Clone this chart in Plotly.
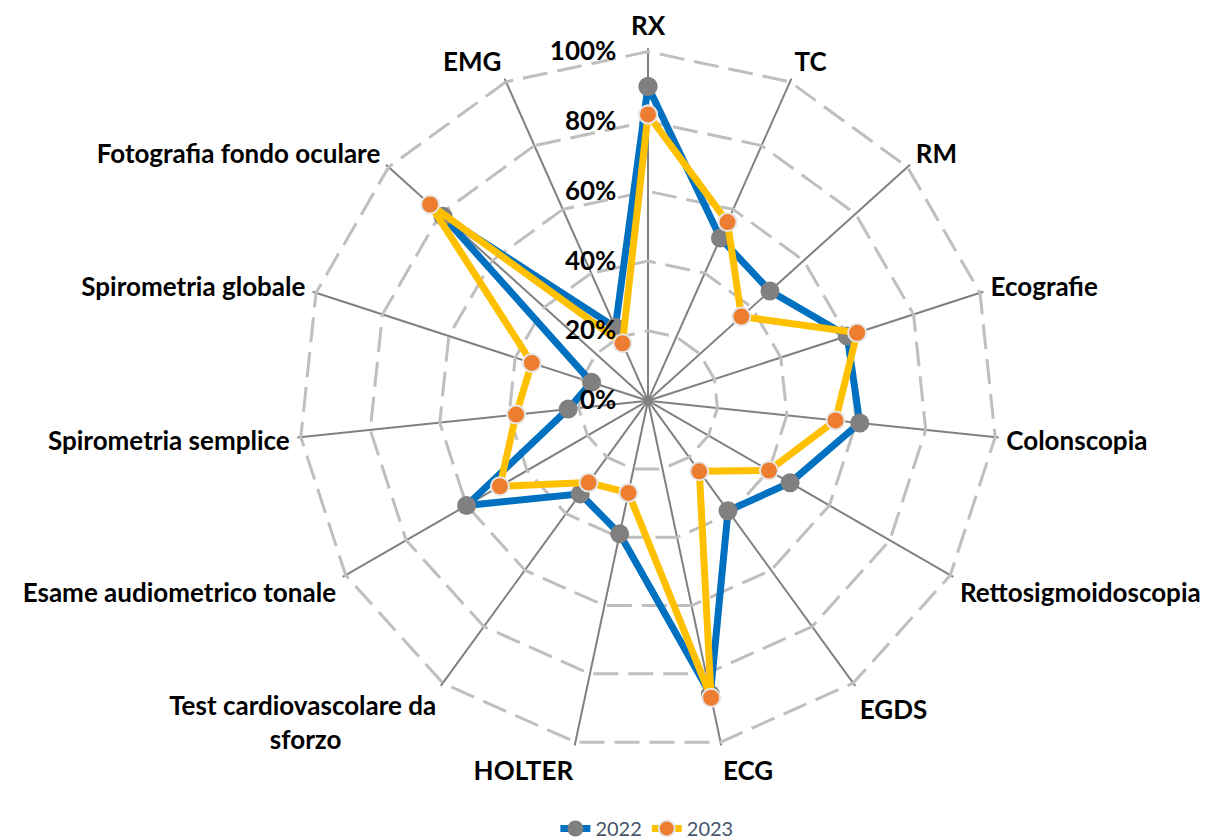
import plotly.graph_objects as go

NB = "\u00a0"
categories = ["RX", "TC", "RM", "Ecografie", "Colonscopia", "Rettosigmoidoscopia",
              "EGDS", "ECG", "HOLTER", "Test cardiovascolare da<br>sforzo" + NB * 15,
              "Esame audiometrico tonale", "Spirometria semplice",
              "Spirometria globale", "Fotografia fondo oculare", "EMG"]
values_2022 = [0.90, 0.51, 0.47, 0.60, 0.61, 0.47, 0.39, 0.86, 0.39, 0.33, 0.60, 0.23, 0.17, 0.79, 0.23]
values_2023 = [0.82, 0.56, 0.36, 0.63, 0.54, 0.40, 0.25, 0.87, 0.27, 0.29, 0.49, 0.38, 0.35, 0.84, 0.18]
tick_vals = [0, 0.2, 0.4, 0.6, 0.8, 1.0]
tick_text = ["0%", "20%", "40%", "60%", "80%", "100%"]

FONT = "Lato, 'Open Sans', sans-serif"

def closed(seq):
    return list(seq) + [seq[0]]

fig = go.Figure()
fig.add_trace(go.Scatterpolar(
    r=closed(values_2022), theta=closed(categories), name="2022",
    mode="lines+markers",
    line=dict(color="#0070C0", width=7),
    marker=dict(color="#808080", size=19, line=dict(color="#808080", width=0)),
))
fig.add_trace(go.Scatterpolar(
    r=closed(values_2023), theta=closed(categories), name="2023",
    mode="lines+markers",
    line=dict(color="#FFC000", width=7),
    marker=dict(color="#ED7D31", size=18, line=dict(color="#E6E6E6", width=2)),
))

rmax = 1.01
cx, cy, half = 640, 396, 352 * rmax
fig.update_layout(
    width=1210, height=840,
    margin=dict(l=0, r=0, t=0, b=0),
    paper_bgcolor="white",
    font=dict(family=FONT, color="black"),
    showlegend=True,
    legend=dict(orientation="h", x=0.528, xanchor="center", y=0.015, yanchor="middle",
                font=dict(size=20, color="#44546A", family=FONT),
                traceorder="normal"),
    polar=dict(
        domain=dict(x=[(cx - half) / 1210, (cx + half) / 1210],
                    y=[(840 - cy - half) / 840, (840 - cy + half) / 840]),
        bgcolor="white",
        gridshape="linear",
        angularaxis=dict(
            rotation=90, direction="clockwise",
            showline=False,
            gridcolor="#808080", gridwidth=1.5,
            ticks="outside", ticklen=2, tickcolor="rgba(0,0,0,0)",
            tickfont=dict(size=26, color="black", family=FONT, weight="bold"),
        ),
        radialaxis=dict(
            range=[0, rmax], angle=90, side="counterclockwise", tickangle=90,
            tickvals=tick_vals, ticktext=tick_text,
            showline=False,
            gridcolor="#BFBFBF", gridwidth=3, griddash="25px,10px",
            ticks="outside", ticklen=22, tickcolor="rgba(0,0,0,0)",
            tickfont=dict(size=26, color="black", family=FONT, weight="bold"),
        ),
    ),
)

fig.write_html("out.html")
